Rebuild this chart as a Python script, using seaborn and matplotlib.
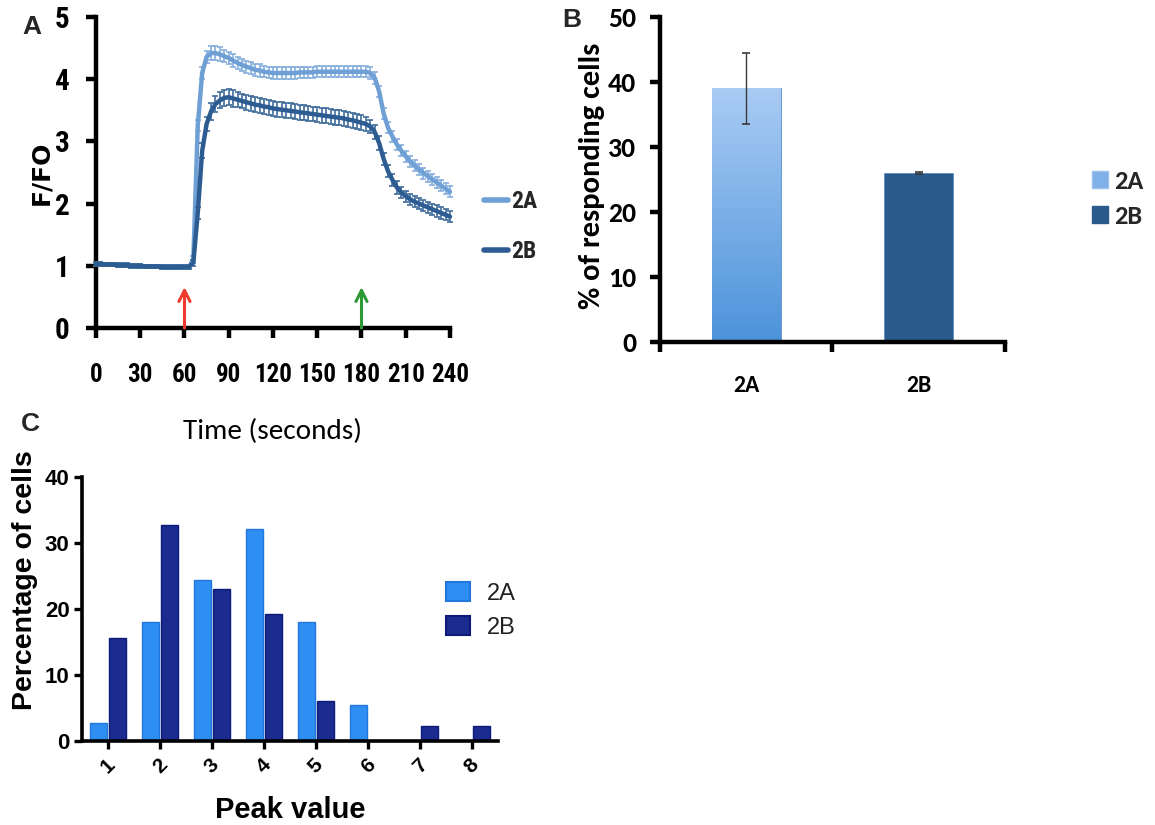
import matplotlib
matplotlib.use("Agg")
import numpy as np
import pandas as pd
import seaborn as sns
import matplotlib.pyplot as plt
from matplotlib import font_manager as fm
from matplotlib.lines import Line2D
from matplotlib.patches import Patch
from matplotlib.colors import LinearSegmentedColormap

# ---------------- data ----------------
groups = ["2A", "2B"]

# Panel A: calcium imaging traces (F/F0), sampled every 3 s
time_s = list(range(0, 241, 3))
ratio_2A = [1.03, 1.03, 1.02, 1.02, 1.02, 1.01, 1.01, 1.01, 1.00, 1.00,
            1.00, 0.99, 0.99, 0.99, 0.99, 0.98, 0.98, 0.98, 0.98, 0.98,
            0.98, 0.98, 1.10, 3.25, 4.10, 4.36, 4.42, 4.42, 4.40, 4.37,
            4.34, 4.30, 4.26, 4.23, 4.20, 4.18, 4.15, 4.14, 4.12, 4.11,
            4.10, 4.10, 4.10, 4.10, 4.10, 4.10, 4.11, 4.11, 4.11, 4.11,
            4.12, 4.12, 4.12, 4.12, 4.12, 4.12, 4.12, 4.12, 4.12, 4.12,
            4.12, 4.12, 4.10, 4.02, 3.80, 3.45, 3.22, 3.08, 2.95, 2.85,
            2.76, 2.68, 2.61, 2.55, 2.49, 2.44, 2.39, 2.34, 2.29, 2.24,
            2.19]
sem_2A = [0.03, 0.03, 0.03, 0.03, 0.03, 0.03, 0.03, 0.03, 0.03, 0.03,
          0.03, 0.03, 0.03, 0.03, 0.03, 0.03, 0.03, 0.03, 0.03, 0.03,
          0.03, 0.03, 0.05, 0.09, 0.10, 0.10, 0.11, 0.11, 0.11, 0.10,
          0.10, 0.10, 0.10, 0.10, 0.10, 0.10, 0.10, 0.10, 0.09, 0.09,
          0.09, 0.09, 0.09, 0.09, 0.09, 0.09, 0.09, 0.09, 0.09, 0.09,
          0.09, 0.09, 0.09, 0.09, 0.09, 0.09, 0.09, 0.09, 0.09, 0.09,
          0.09, 0.09, 0.09, 0.09, 0.09, 0.09, 0.09, 0.09, 0.09, 0.09,
          0.09, 0.09, 0.09, 0.09, 0.09, 0.09, 0.09, 0.09, 0.09, 0.09,
          0.09]
ratio_2B = [1.03, 1.03, 1.02, 1.02, 1.02, 1.01, 1.01, 1.01, 1.00, 1.00,
            1.00, 0.99, 0.99, 0.99, 0.99, 0.98, 0.98, 0.98, 0.98, 0.98,
            0.98, 0.98, 1.05, 1.85, 2.85, 3.28, 3.48, 3.60, 3.66, 3.70,
            3.71, 3.69, 3.67, 3.65, 3.63, 3.61, 3.59, 3.58, 3.56, 3.55,
            3.53, 3.52, 3.51, 3.50, 3.49, 3.48, 3.47, 3.46, 3.45, 3.44,
            3.43, 3.42, 3.41, 3.40, 3.39, 3.38, 3.37, 3.35, 3.34, 3.32,
            3.30, 3.28, 3.24, 3.15, 2.97, 2.72, 2.52, 2.38, 2.26, 2.18,
            2.12, 2.07, 2.03, 2.00, 1.97, 1.94, 1.91, 1.88, 1.85, 1.82,
            1.79]
sem_2B = [0.03, 0.03, 0.03, 0.03, 0.03, 0.03, 0.03, 0.03, 0.03, 0.03,
          0.03, 0.03, 0.03, 0.03, 0.03, 0.03, 0.03, 0.03, 0.03, 0.03,
          0.03, 0.03, 0.05, 0.10, 0.12, 0.12, 0.13, 0.13, 0.13, 0.13,
          0.13, 0.13, 0.12, 0.12, 0.12, 0.12, 0.12, 0.12, 0.12, 0.12,
          0.12, 0.12, 0.12, 0.12, 0.12, 0.12, 0.12, 0.12, 0.12, 0.12,
          0.12, 0.12, 0.12, 0.12, 0.12, 0.12, 0.12, 0.12, 0.12, 0.12,
          0.12, 0.12, 0.11, 0.11, 0.11, 0.10, 0.10, 0.10, 0.10, 0.09,
          0.09, 0.09, 0.09, 0.09, 0.09, 0.09, 0.09, 0.09, 0.09, 0.09,
          0.09]
stim_times = [60, 180]
stim_colors = ["#EE3B2E", "#2E9A35"]
stim_arrow_top = 0.66
time_ticks = [0, 30, 60, 90, 120, 150, 180, 210, 240]

# Panel B: % of responding cells
resp_pct = [39.0, 26.0]
resp_err = [5.5, 0.1]

# Panel C: distribution of peak values
peak_values = ["1", "2", "3", "4", "5", "6", "7", "8"]
pct_2A = [2.8, 18.0, 24.4, 32.1, 18.0, 5.4, 0.0, 0.0]
pct_2B = [15.6, 32.7, 23.1, 19.3, 6.0, 0.0, 2.2, 2.2]

# ---------------- fonts ----------------
_avail = {f.name for f in fm.fontManager.ttflist}


def pick(*names):
    for n in names:
        if n in _avail:
            return n
    return "DejaVu Sans"


NARROW = pick("Liberation Sans Narrow", "Roboto Condensed", "Archivo Narrow",
              "Asap Condensed", "Carlito", "Lato")
CALIBRI = pick("Carlito", "Lato", "Open Sans")
ARIAL = pick("Liberation Sans", "Arimo", "DejaVu Sans")

sns.set_theme(style="white")
plt.rcParams["font.family"] = [ARIAL, "DejaVu Sans"]

fig = plt.figure(figsize=(11.55, 8.25), dpi=100)

# colours
A_LIGHT = "#6E9FD5"
A_LIGHT_ERR = "#86AEDD"
A_DARK = "#2D5C92"
A_DARK_ERR = "#406C9C"

# ================= Panel A =================
axA = fig.add_axes([0.0831, 0.6024, 0.3065, 0.377])
n = len(time_s)
dfA = pd.DataFrame({
    "time": time_s + time_s,
    "ratio": ratio_2A + ratio_2B,
    "group": ["2A"] * n + ["2B"] * n,
})
axA.errorbar(time_s, ratio_2A, yerr=sem_2A, fmt="none", ecolor=A_LIGHT_ERR,
             elinewidth=1.2, capsize=2.5, capthick=1.2, zorder=2, clip_on=False)
sns.lineplot(data=dfA[dfA.group == "2A"], x="time", y="ratio", color=A_LIGHT,
             lw=3.2, ax=axA, legend=False, zorder=3, clip_on=False)
axA.errorbar(time_s, ratio_2B, yerr=sem_2B, fmt="none", ecolor=A_DARK_ERR,
             elinewidth=1.2, capsize=2.5, capthick=1.2, zorder=4, clip_on=False)
sns.lineplot(data=dfA[dfA.group == "2B"], x="time", y="ratio", color=A_DARK,
             lw=3.2, ax=axA, legend=False, zorder=5, clip_on=False)

for t, c in zip(stim_times, stim_colors):
    axA.annotate("", xy=(t, stim_arrow_top), xytext=(t, 0.0),
                 arrowprops=dict(arrowstyle="->", color=c, lw=2.2,
                                 mutation_scale=20, shrinkA=0, shrinkB=0),
                 zorder=6)

axA.set_xlim(0, 240)
axA.set_ylim(0, 5)
axA.set_xticks(time_ticks)
axA.set_yticks([0, 1, 2, 3, 4, 5])
for s in ["top", "right"]:
    axA.spines[s].set_visible(False)
for s in ["left", "bottom"]:
    axA.spines[s].set_linewidth(3.2)
    axA.spines[s].set_color("black")
axA.tick_params(axis="x", width=3.2, length=7, direction="out", pad=18,
                colors="black", bottom=True)
axA.tick_params(axis="y", width=3.2, length=7, direction="out", pad=12,
                colors="black", left=True)
for lab in axA.get_xticklabels():
    lab.set_fontfamily(NARROW)
    lab.set_fontweight("bold")
    lab.set_fontsize(18)
for lab in axA.get_yticklabels():
    lab.set_fontfamily(NARROW)
    lab.set_fontweight("bold")
    lab.set_fontsize(21)
axA.set_xlabel("Time (seconds)", fontsize=21, family=CALIBRI, labelpad=23,
               color="black")
axA.set_ylabel("F/FO", fontsize=18, family="DejaVu Sans", fontweight="bold",
               labelpad=1, color="black")

legA = axA.legend(handles=[Line2D([], [], color=A_LIGHT, lw=4),
                           Line2D([], [], color=A_DARK, lw=4)],
                  labels=groups, frameon=False, loc="upper left",
                  bbox_to_anchor=(484 / 1155, 1 - 190 / 825),
                  bbox_transform=fig.transFigure,
                  handlelength=1.0, handletextpad=0.15, labelspacing=1.15,
                  borderpad=0, borderaxespad=0,
                  prop=dict(family=NARROW, weight="bold", size=17))

# ================= Panel B =================
axB = fig.add_axes([0.5714, 0.5855, 0.2987, 0.394])
dfB = pd.DataFrame({"group": groups, "pct": resp_pct})
B_LIGHT_TOP = "#A9CBF4"
B_LIGHT_BOT = "#4C93DA"
B_LIGHT_MID = "#7FB0E8"
B_DARK = "#2A5A8B"
sns.barplot(data=dfB, x="group", y="pct", hue="group",
            palette={"2A": B_LIGHT_MID, "2B": B_DARK}, width=0.4,
            saturation=1, errorbar=None, legend=False, ax=axB, zorder=2,
            edgecolor="#5C8FC8", linewidth=0.6)
axB.set_xlim(-0.5, 1.5)
axB.set_ylim(0, 50)
# gradient fill for the 2A bar
bar0 = axB.patches[0]
x0, y0 = bar0.get_x(), bar0.get_y()
w, h = bar0.get_width(), bar0.get_height()
cmap = LinearSegmentedColormap.from_list("grad", [B_LIGHT_BOT, B_LIGHT_TOP])
grad = np.linspace(0, 1, 256).reshape(-1, 1)
im = axB.imshow(grad, extent=[x0, x0 + w, y0, y0 + h], origin="lower",
                aspect="auto", cmap=cmap, zorder=2.5)
im.set_clip_path(bar0)
axB.set_xlim(-0.5, 1.5)
axB.set_ylim(0, 50)
axB.errorbar([0, 1], resp_pct, yerr=resp_err, fmt="none", ecolor="#3A3A3A",
             elinewidth=1.0, capsize=3, capthick=1.2, zorder=4)

axB.set_yticks([0, 10, 20, 30, 40, 50])
axB.set_xticks([-0.5, 0.5, 1.5])
axB.set_xticklabels(["", "", ""])
axB.set_xticks([0, 1], minor=True)
axB.set_xticklabels(groups, minor=True)
for s in ["top", "right"]:
    axB.spines[s].set_visible(False)
for s in ["left", "bottom"]:
    axB.spines[s].set_linewidth(3.2)
    axB.spines[s].set_color("black")
axB.tick_params(axis="x", which="major", width=3.2, length=7,
                direction="out", bottom=True, colors="black")
axB.tick_params(axis="x", which="minor", length=0, pad=24, bottom=True,
                colors="black")
axB.tick_params(axis="y", width=3.2, length=7, direction="out", pad=10,
                left=True, colors="black")
for lab in axB.get_xticklabels(minor=True):
    lab.set_fontfamily(CALIBRI)
    lab.set_fontweight("bold")
    lab.set_fontsize(17)
for lab in axB.get_yticklabels():
    lab.set_fontfamily(CALIBRI)
    lab.set_fontweight("bold")
    lab.set_fontsize(20)
axB.set_xlabel("")
axB.set_ylabel("% of responding cells", fontsize=22, family=CALIBRI,
               fontweight="bold", color="black")
axB.yaxis.set_label_coords(-0.16, 0.51)

legB = axB.legend(handles=[Patch(facecolor=B_LIGHT_MID, edgecolor="#9CC0EA"),
                           Patch(facecolor=B_DARK, edgecolor=B_DARK)],
                  labels=groups, frameon=False, loc="upper left",
                  bbox_to_anchor=(1092 / 1155, 1 - 170 / 825),
                  bbox_transform=fig.transFigure,
                  handlelength=0.6, handleheight=0.6, handletextpad=0.25,
                  labelspacing=0.45, borderpad=0, borderaxespad=0,
                  prop=dict(family=CALIBRI, weight="bold", size=19))

# ================= Panel C =================
axC = fig.add_axes([0.0710, 0.1018, 0.3602, 0.32])
dfC = pd.DataFrame({
    "peak": peak_values * 2,
    "pct": pct_2A + pct_2B,
    "group": ["2A"] * len(peak_values) + ["2B"] * len(peak_values),
})
C_2A = "#2F8EF2"
C_2A_EDGE = "#2277DD"
C_2B = "#1B2C8E"
C_2B_EDGE = "#0E1A7A"
sns.barplot(data=dfC, x="peak", y="pct", hue="group",
            palette={"2A": C_2A, "2B": C_2B}, width=0.72, gap=0.08,
            saturation=1, errorbar=None, legend=False, ax=axC, zorder=2)
for cont, ec in zip(axC.containers, [C_2A_EDGE, C_2B_EDGE]):
    for p in cont:
        if p.get_height() > 0:
            p.set_edgecolor(ec)
            p.set_linewidth(1.0)
        else:
            p.set_linewidth(0)
axC.set_xlim(-0.5, 7.5)
axC.set_ylim(0, 40)
axC.set_yticks([0, 10, 20, 30, 40])
for s in ["top", "right"]:
    axC.spines[s].set_visible(False)
for s in ["left", "bottom"]:
    axC.spines[s].set_linewidth(2.6)
    axC.spines[s].set_color("black")
axC.tick_params(axis="x", width=2.4, length=6, direction="out", pad=4,
                bottom=True, colors="black")
axC.tick_params(axis="y", width=2.4, length=6, direction="out", pad=3,
                left=True, colors="black")
for lab in axC.get_xticklabels():
    lab.set_rotation(45)
    lab.set_fontweight("bold")
    lab.set_fontsize(15)
for lab in axC.get_yticklabels():
    lab.set_fontweight("bold")
    lab.set_fontsize(16)
axC.set_xlabel("Peak value", fontsize=21, fontweight="bold", labelpad=14,
               color="black")
axC.set_ylabel("Percentage of cells", fontsize=20.5, fontweight="bold",
               color="black")
axC.yaxis.set_label_coords(-0.105, 0.61)
legC = axC.legend(handles=[Patch(facecolor=C_2A, edgecolor=C_2A_EDGE, lw=1.5),
                           Patch(facecolor=C_2B, edgecolor=C_2B_EDGE, lw=1.5)],
                  labels=groups, frameon=False, loc="upper left",
                  bbox_to_anchor=(446 / 1155, 1 - 582 / 825),
                  bbox_transform=fig.transFigure,
                  handlelength=1.0, handleheight=0.85, handletextpad=0.75,
                  labelspacing=0.5, borderpad=0, borderaxespad=0,
                  prop=dict(size=17))
for t in legC.get_texts():
    t.set_color("#222222")

# panel letters
fig.text(22 / 1155, 1 - 27 / 825, "A", fontsize=19, fontweight="bold",
         va="center", ha="left")
fig.text(562 / 1155, 1 - 20 / 825, "B", fontsize=19, fontweight="bold",
         va="center", ha="left")
fig.text(21 / 1155, 1 - 424 / 825, "C", fontsize=19, fontweight="bold",
         va="center", ha="left")

fig.savefig("out.png", dpi=100, facecolor="white")
